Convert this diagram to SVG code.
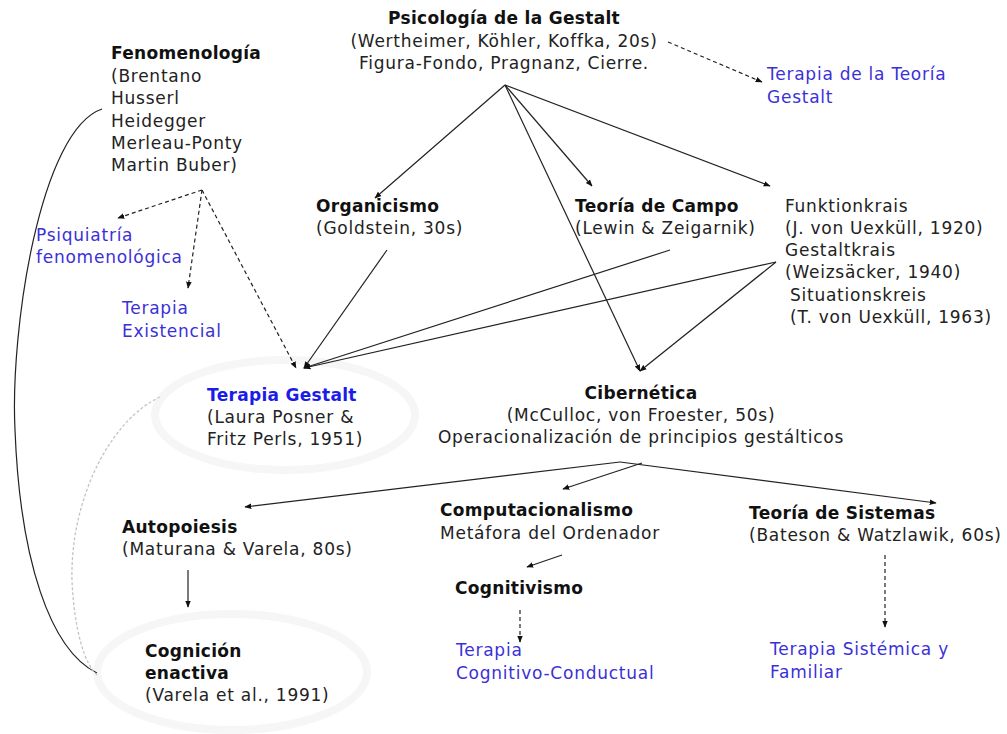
<svg xmlns="http://www.w3.org/2000/svg" width="1007" height="734" viewBox="0 0 1007 734">
<style>
text{font-family:"DejaVu Sans","Open Sans",sans-serif;font-size:17px;letter-spacing:0.75px;fill:#222}
.b{font-weight:bold;fill:#111;letter-spacing:0.3px}
.blue{fill:#3b30d8}
.tg{font-weight:bold;fill:#1c1ce8;letter-spacing:0.3px}
.c{text-anchor:middle}
.ln{stroke:#222;stroke-width:1.2;fill:none}
.ds{stroke:#222;stroke-width:1.2;fill:none;stroke-dasharray:4 3}
.halo{fill:none;stroke:#f6f6f6;stroke-width:8}
</style>
<defs>
<marker id="ah" viewBox="0 0 10 10" refX="9" refY="5" markerWidth="7" markerHeight="7" orient="auto" markerUnits="userSpaceOnUse">
<path d="M0,1 L10,5 L0,9 z" fill="#111"/>
</marker>
</defs>
<rect width="1007" height="734" fill="#fff"/>
<g id="halos">
<ellipse class="halo" cx="285" cy="415" rx="130" ry="55"/>
<ellipse class="halo" cx="232" cy="672" rx="135" ry="58"/>
</g>
<g id="connectors">
<path class="ln" d="M102,109 C40,130 10,330 15,430 C20,560 50,650 97,673"/>
<path d="M160,397 C110,420 70,500 72,580 C74,630 85,665 97,675" fill="none" stroke="#c4c4c4" stroke-width="1.3" stroke-dasharray="3 2"/>
<line class="ln" x1="505" y1="85" x2="375" y2="198" marker-end="url(#ah)"/>
<line class="ln" x1="505" y1="85" x2="592" y2="186" marker-end="url(#ah)"/>
<line class="ln" x1="505" y1="85" x2="770" y2="186" marker-end="url(#ah)"/>
<line class="ln" x1="505" y1="85" x2="640" y2="371" marker-end="url(#ah)"/>
<line class="ds" x1="668" y1="42" x2="762" y2="82" marker-end="url(#ah)"/>
<line class="ds" x1="202" y1="190" x2="118" y2="218" marker-end="url(#ah)"/>
<line class="ds" x1="202" y1="190" x2="188" y2="288" marker-end="url(#ah)"/>
<line class="ds" x1="202" y1="190" x2="296" y2="368" marker-end="url(#ah)"/>
<line class="ln" x1="387" y1="250" x2="304" y2="368" marker-end="url(#ah)"/>
<line class="ln" x1="670" y1="250" x2="304" y2="368" marker-end="url(#ah)"/>
<line class="ln" x1="776" y1="262" x2="304" y2="368" marker-end="url(#ah)"/>
<line class="ln" x1="776" y1="262" x2="640" y2="371" marker-end="url(#ah)"/>
<line class="ln" x1="620" y1="462" x2="245" y2="507" marker-end="url(#ah)"/>
<line class="ln" x1="620" y1="462" x2="936" y2="503" marker-end="url(#ah)"/>
<line class="ln" x1="642" y1="463" x2="563" y2="489" marker-end="url(#ah)"/>
<line class="ln" x1="562" y1="555" x2="527" y2="567" marker-end="url(#ah)"/>
<line class="ln" x1="188" y1="570" x2="188" y2="607" marker-end="url(#ah)"/>
<line class="ds" x1="520" y1="610" x2="520" y2="642" marker-end="url(#ah)"/>
<line class="ds" x1="885" y1="555" x2="885" y2="627" marker-end="url(#ah)"/>
</g>
<g id="psicologia-gestalt">
<text class="b c" x="504" y="24">Psicología de la Gestalt</text>
<text class="c" x="504" y="47">(Wertheimer, Köhler, Koffka, 20s)</text>
<text class="c" x="504" y="69">Figura-Fondo, Pragnanz, Cierre.</text>
</g>
<g id="terapia-teoria-gestalt">
<text class="blue" x="767" y="80">Terapia de la Teoría</text>
<text class="blue" x="767" y="103">Gestalt</text>
</g>
<g id="fenomenologia">
<text class="b" x="111" y="59">Fenomenología</text>
<text x="111" y="82">(Brentano</text>
<text x="111" y="104">Husserl</text>
<text x="111" y="127">Heidegger</text>
<text x="111" y="149">Merleau-Ponty</text>
<text x="111" y="171">Martin Buber)</text>
</g>
<g id="psiquiatria">
<text class="blue" x="36" y="241">Psiquiatría</text>
<text class="blue" x="36" y="263">fenomenológica</text>
</g>
<g id="terapia-existencial">
<text class="blue" x="122" y="314">Terapia</text>
<text class="blue" x="122" y="337">Existencial</text>
</g>
<g id="organicismo">
<text class="b" x="316" y="212">Organicismo</text>
<text x="316" y="234">(Goldstein, 30s)</text>
</g>
<g id="teoria-campo">
<text class="b" x="575" y="212">Teoría de Campo</text>
<text x="575" y="234">(Lewin &amp; Zeigarnik)</text>
</g>
<g id="funktionkrais">
<text x="785" y="212">Funktionkrais</text>
<text x="785" y="234">(J. von Uexküll, 1920)</text>
<text x="785" y="256">Gestaltkrais</text>
<text x="785" y="278">(Weizsäcker, 1940)</text>
<text x="790" y="301">Situationskreis</text>
<text x="790" y="323">(T. von Uexküll, 1963)</text>
</g>
<g id="terapia-gestalt">
<text class="tg" x="207" y="401">Terapia Gestalt</text>
<text x="207" y="423">(Laura Posner &amp;</text>
<text x="207" y="445">Fritz Perls, 1951)</text>
</g>
<g id="cibernetica">
<text class="b c" x="641" y="399">Cibernética</text>
<text class="c" x="641" y="421">(McCulloc, von Froester, 50s)</text>
<text class="c" x="641" y="443">Operacionalización de principios gestálticos</text>
</g>
<g id="autopoiesis">
<text class="b" x="122" y="533">Autopoiesis</text>
<text x="122" y="555">(Maturana &amp; Varela, 80s)</text>
</g>
<g id="computacionalismo">
<text class="b" x="440" y="516">Computacionalismo</text>
<text x="440" y="539">Metáfora del Ordenador</text>
</g>
<g id="cognitivismo">
<text class="b" x="455" y="594">Cognitivismo</text>
</g>
<g id="terapia-cognitivo">
<text class="blue" x="456" y="656">Terapia</text>
<text class="blue" x="456" y="679">Cognitivo-Conductual</text>
</g>
<g id="teoria-sistemas">
<text class="b" x="749" y="519">Teoría de Sistemas</text>
<text x="749" y="541">(Bateson &amp; Watzlawik, 60s)</text>
</g>
<g id="terapia-sistemica">
<text class="blue" x="770" y="655">Terapia Sistémica y</text>
<text class="blue" x="770" y="678">Familiar</text>
</g>
<g id="cognicion-enactiva">
<text class="b" x="145" y="657">Cognición</text>
<text class="b" x="145" y="679">enactiva</text>
<text x="145" y="701">(Varela et al., 1991)</text>
</g>
</svg>
